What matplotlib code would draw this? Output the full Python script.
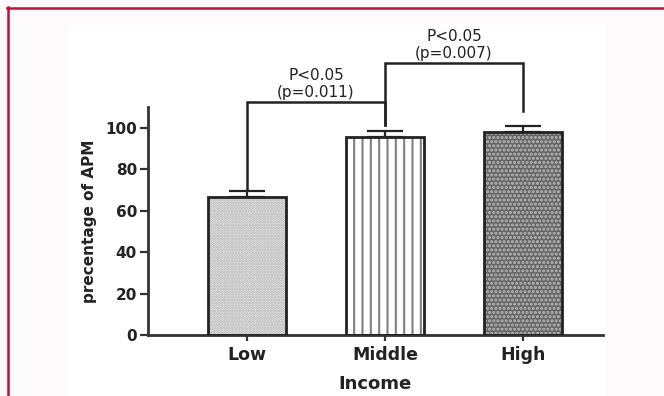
import matplotlib
matplotlib.use("Agg")
import matplotlib.pyplot as plt
from matplotlib.patches import Rectangle
from matplotlib.lines import Line2D

categories = ["Low", "Middle", "High"]
values = [66.7, 95.5, 98.0]
errors = [3.0, 3.0, 3.0]
yticks = [0, 20, 40, 60, 80, 100]
ylabel = "precentage of APM"
xlabel = "Income"
# significance brackets: (left idx, right idx, left foot, right foot, top, text)
brackets = [
    (0, 1, 70.5, 101.4, 112.6, "P<0.05\n(p=0.011)"),
    (1, 2, 101.4, 108.2, 131.4, "P<0.05\n(p=0.007)"),
]

W, H = 664, 396
fig = plt.figure(figsize=(W / 100, H / 100), dpi=100)
fig.patch.set_facecolor("#fcfafb")

# inner white panel and red frame
fig.add_artist(Rectangle((68 / W, 0), (606 - 68) / W, 1 - 24 / H,
                         transform=fig.transFigure, facecolor="white",
                         edgecolor="none", zorder=0))
red = "#b8123c"
fig.add_artist(Line2D([7 / W, 1], [1 - 7.5 / H, 1 - 7.5 / H],
                      transform=fig.transFigure, color=red, lw=1.8))
fig.add_artist(Line2D([7.5 / W, 7.5 / W], [0, 1 - 7 / H],
                      transform=fig.transFigure, color=red, lw=1.8))

ax = fig.add_axes([148 / W, 1 - 335 / H, (603 - 148) / W, (335 - 107) / H])
ax.set_facecolor("none")

x = list(range(len(categories)))
width = 0.57
styles = [
    dict(facecolor="#eeeeee", hatch="......", hatchc="#b0b0b0"),
    dict(facecolor="white", hatch="||", hatchc="#808080"),
    dict(facecolor="#646464", hatch="....", hatchc="#bdbdbd"),
]
plt.rcParams["hatch.linewidth"] = 1.5
for xi, v, st in zip(x, values, styles):
    ax.bar(xi, v, width=width, color=st["facecolor"], hatch=st["hatch"],
           edgecolor=st["hatchc"], linewidth=0, zorder=2)
    ax.bar(xi, v, width=width, facecolor="none", edgecolor="#222222",
           linewidth=2, zorder=3)

ax.errorbar(x, values, yerr=[[0] * len(values), errors], fmt="none",
            ecolor="#222222", elinewidth=1.6, capsize=13, capthick=1.6,
            zorder=4)

lc = "#222222"
for i, j, yl, yr, top, txt in brackets:
    ax.plot([i, i, j, j], [yl, top, top, yr], color=lc, lw=1.8,
            clip_on=False, zorder=5, solid_joinstyle="miter")
    ax.text((i + j) / 2, top + 1.0, txt, ha="center", va="bottom",
            fontsize=11, family="DejaVu Sans", color="#222222",
            linespacing=1.1, clip_on=False)

ax.set_xlim(-0.717, 2.58)
ax.set_ylim(0, 110)
ax.set_yticks(yticks)
ax.set_xticks(x)
ax.set_xticklabels(categories, fontsize=12.5, fontweight="bold",
                   family="DejaVu Sans", color="#222222")
ax.set_yticklabels([str(t) for t in yticks], fontsize=11, fontweight="bold",
                   family="DejaVu Sans", color="#222222")
for s in ["top", "right"]:
    ax.spines[s].set_visible(False)
for s in ["left", "bottom"]:
    ax.spines[s].set_linewidth(2)
    ax.spines[s].set_color("#333333")
ax.tick_params(axis="y", length=6, width=1.6, color="#333333", pad=2)
ax.tick_params(axis="x", length=4, width=1.6, color="#333333", pad=4)
ax.set_ylabel(ylabel, fontsize=11, fontweight="bold", family="DejaVu Sans",
              color="#222222", labelpad=6)
ax.set_xlabel(xlabel, fontsize=13, fontweight="bold", family="DejaVu Sans",
              color="#222222", labelpad=8)

fig.savefig("out.png", dpi=100, facecolor=fig.get_facecolor())
